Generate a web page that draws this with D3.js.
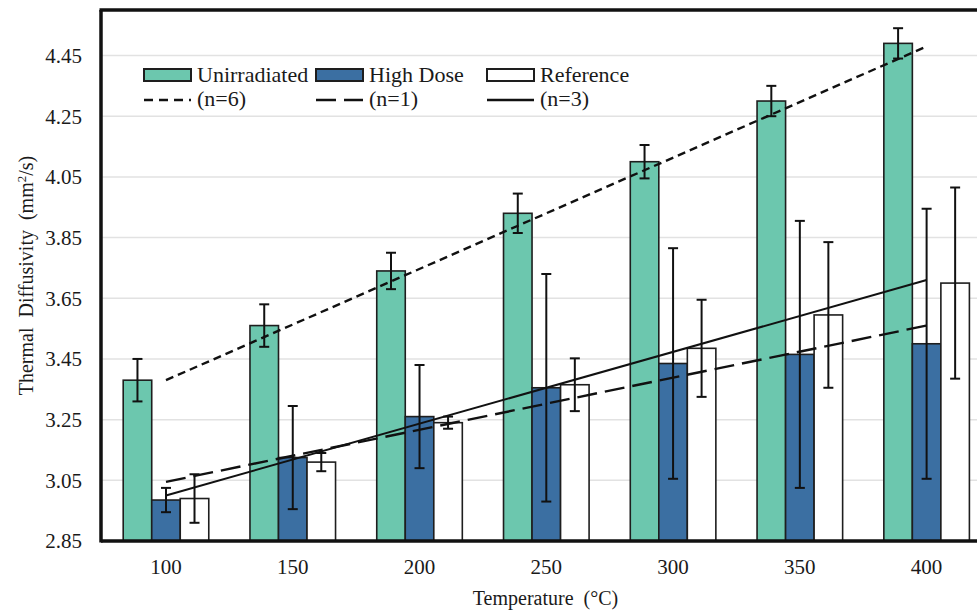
<!DOCTYPE html>
<html lang="en">
<head>
    <meta charset="UTF-8">
    <title>Thermal Diffusivity vs Temperature</title>
    <script src="https://d3js.org/d3.v7.min.js"></script>
    <style>
        body { margin: 0; overflow: hidden; background: white; }
        svg { display: block; font-family: 'Liberation Serif', 'Times New Roman', serif; }
        .tick-label { font-size: 21px; fill: #1a1a1a; }
        .axis-title { font-size: 20px; fill: #1a1a1a; }
        .legend-text { font-size: 22px; fill: #1a1a1a; }
    </style>
</head>
<body>
    <svg width="977" height="610"></svg>
    <script>
        // values
        const temps = ["100", "150", "200", "250", "300", "350", "400"];
        const unirradiated = [3.38, 3.56, 3.74, 3.93, 4.10, 4.30, 4.49];
        const unirradiatedErr = [0.07, 0.07, 0.06, 0.065, 0.055, 0.05, 0.05];
        const highDose = [2.985, 3.125, 3.26, 3.355, 3.435, 3.465, 3.50];
        const highDoseErr = [0.04, 0.17, 0.17, 0.375, 0.38, 0.44, 0.445];
        const reference = [2.99, 3.11, 3.24, 3.365, 3.485, 3.595, 3.70];
        const referenceErr = [0.08, 0.03, 0.02, 0.087, 0.16, 0.24, 0.315];
        // linear trend lines, value at first and last temperature
        const trendUnirradiated = [3.38, 4.48];
        const trendHighDose = [3.045, 3.56];
        const trendReference = [3.0, 3.71];
        const yTicks = [2.85, 3.05, 3.25, 3.45, 3.65, 3.85, 4.05, 4.25, 4.45];

        const seriesNames = ["Unirradiated", "High Dose", "Reference"];
        const seriesLabels = ["(n=6)", "(n=1)", "(n=3)"];
        const colors = ["#6cc7ae", "#3b6fa2", "#ffffff"];
        const dashes = ["8,5", "20,8", null];

        const svg = d3.select("svg");
        const plotLeft = 101, plotTop = 10, plotBottom = 541, plotRight = 990;

        const x = d3.scaleBand()
            .domain(temps)
            .range([102.6, plotRight])
            .paddingInner(0.325)
            .paddingOuter(0.1625);

        const xSub = d3.scaleBand()
            .domain(seriesNames)
            .range([0, x.bandwidth()]);

        const y = d3.scaleLinear()
            .domain([2.85, 4.60])
            .range([plotBottom, plotTop]);

        // gridlines
        svg.append("g")
            .selectAll("line")
            .data(yTicks.slice(1))
            .join("line")
            .attr("x1", plotLeft).attr("x2", plotRight)
            .attr("y1", d => y(d)).attr("y2", d => y(d))
            .attr("stroke", "#e2e2e2")
            .attr("stroke-width", 1.5);

        // y tick labels
        svg.append("g")
            .selectAll("text")
            .data(yTicks)
            .join("text")
            .attr("class", "tick-label")
            .attr("x", 82)
            .attr("y", d => y(d))
            .attr("dy", "0.35em")
            .attr("text-anchor", "end")
            .text(d => d.toFixed(2));

        // x tick labels
        svg.append("g")
            .selectAll("text")
            .data(temps)
            .join("text")
            .attr("class", "tick-label")
            .attr("x", d => x(d) + x.bandwidth() / 2)
            .attr("y", 574)
            .attr("text-anchor", "middle")
            .text(d => d);

        // bars
        const seriesData = [
            { name: "Unirradiated", values: unirradiated, errs: unirradiatedErr },
            { name: "High Dose", values: highDose, errs: highDoseErr },
            { name: "Reference", values: reference, errs: referenceErr }
        ];

        seriesData.forEach((s, si) => {
            const rows = temps.map((t, i) => ({ t: t, v: s.values[i], e: s.errs[i] }));
            const g = svg.append("g");
            g.selectAll("rect")
                .data(rows)
                .join("rect")
                .attr("x", d => x(d.t) + xSub(s.name))
                .attr("y", d => y(d.v))
                .attr("width", xSub.bandwidth())
                .attr("height", d => y(2.85) - y(d.v))
                .attr("fill", colors[si])
                .attr("stroke", "#1e1e1e")
                .attr("stroke-width", 1.6);

            // error bars
            const cx = d => x(d.t) + xSub(s.name) + xSub.bandwidth() / 2;
            const eg = g.append("g").attr("stroke", "#111").attr("stroke-width", 2);
            eg.selectAll(".stem")
                .data(rows)
                .join("line")
                .attr("class", "stem")
                .attr("x1", cx).attr("x2", cx)
                .attr("y1", d => y(d.v + d.e)).attr("y2", d => y(d.v - d.e));
            eg.selectAll(".capTop")
                .data(rows)
                .join("line")
                .attr("class", "capTop")
                .attr("x1", d => cx(d) - 5).attr("x2", d => cx(d) + 5)
                .attr("y1", d => y(d.v + d.e)).attr("y2", d => y(d.v + d.e));
            eg.selectAll(".capBot")
                .data(rows)
                .join("line")
                .attr("class", "capBot")
                .attr("x1", d => cx(d) - 5).attr("x2", d => cx(d) + 5)
                .attr("y1", d => y(d.v - d.e)).attr("y2", d => y(d.v - d.e));
        });

        // trend lines
        const trends = [trendUnirradiated, trendHighDose, trendReference];
        const firstX = x(temps[0]) + x.bandwidth() / 2;
        const lastX = x(temps[temps.length - 1]) + x.bandwidth() / 2;
        trends.forEach((tr, i) => {
            svg.append("line")
                .attr("x1", firstX).attr("y1", y(tr[0]))
                .attr("x2", lastX).attr("y2", y(tr[1]))
                .attr("stroke", "#111")
                .attr("stroke-width", i === 2 ? 2 : 2.4)
                .attr("stroke-dasharray", dashes[i]);
        });

        // frame: left axis, bottom axis, top border
        svg.append("line").attr("x1", plotLeft).attr("x2", plotLeft).attr("y1", plotTop).attr("y2", plotBottom + 1.5)
            .attr("stroke", "#111").attr("stroke-width", 3.5);
        svg.append("line").attr("x1", plotLeft).attr("x2", plotRight).attr("y1", plotBottom).attr("y2", plotBottom)
            .attr("stroke", "#111").attr("stroke-width", 3.5);
        svg.append("line").attr("x1", plotLeft - 1.5).attr("x2", plotRight).attr("y1", plotTop).attr("y2", plotTop)
            .attr("stroke", "#111").attr("stroke-width", 3.5);

        // axis titles
        svg.append("text")
            .attr("class", "axis-title")
            .attr("x", (plotLeft + plotRight) / 2)
            .attr("y", 605)
            .attr("text-anchor", "middle")
            .attr("xml:space", "preserve")
            .text("Temperature  (\u00B0C)");

        const yt = svg.append("text")
            .attr("class", "axis-title")
            .attr("transform", "translate(33," + (plotTop + plotBottom) / 2 + ") rotate(-90)")
            .attr("text-anchor", "middle")
            .attr("xml:space", "preserve");
        yt.append("tspan").text("Thermal  Diffusivity  (mm");
        yt.append("tspan").attr("dy", -7).style("font-size", "13px").text("2");
        yt.append("tspan").attr("dy", 7).text("/s)");

        // legend
        const legendX = [144, 316, 487];
        const legend = svg.append("g");
        seriesNames.forEach((name, i) => {
            legend.append("rect")
                .attr("x", legendX[i]).attr("y", 69)
                .attr("width", 47).attr("height", 12)
                .attr("fill", colors[i])
                .attr("stroke", "#1e1e1e").attr("stroke-width", 2);
            legend.append("text")
                .attr("class", "legend-text")
                .attr("x", legendX[i] + 53).attr("y", 82)
                .text(name);
            legend.append("line")
                .attr("x1", legendX[i]).attr("x2", legendX[i] + 47)
                .attr("y1", 100).attr("y2", 100)
                .attr("stroke", "#111").attr("stroke-width", 2.4)
                .attr("stroke-dasharray", i === 0 ? "9,6" : dashes[i]);
            legend.append("text")
                .attr("class", "legend-text")
                .attr("x", legendX[i] + 53).attr("y", 106)
                .text(seriesLabels[i]);
        });
    </script>
</body>
</html>
